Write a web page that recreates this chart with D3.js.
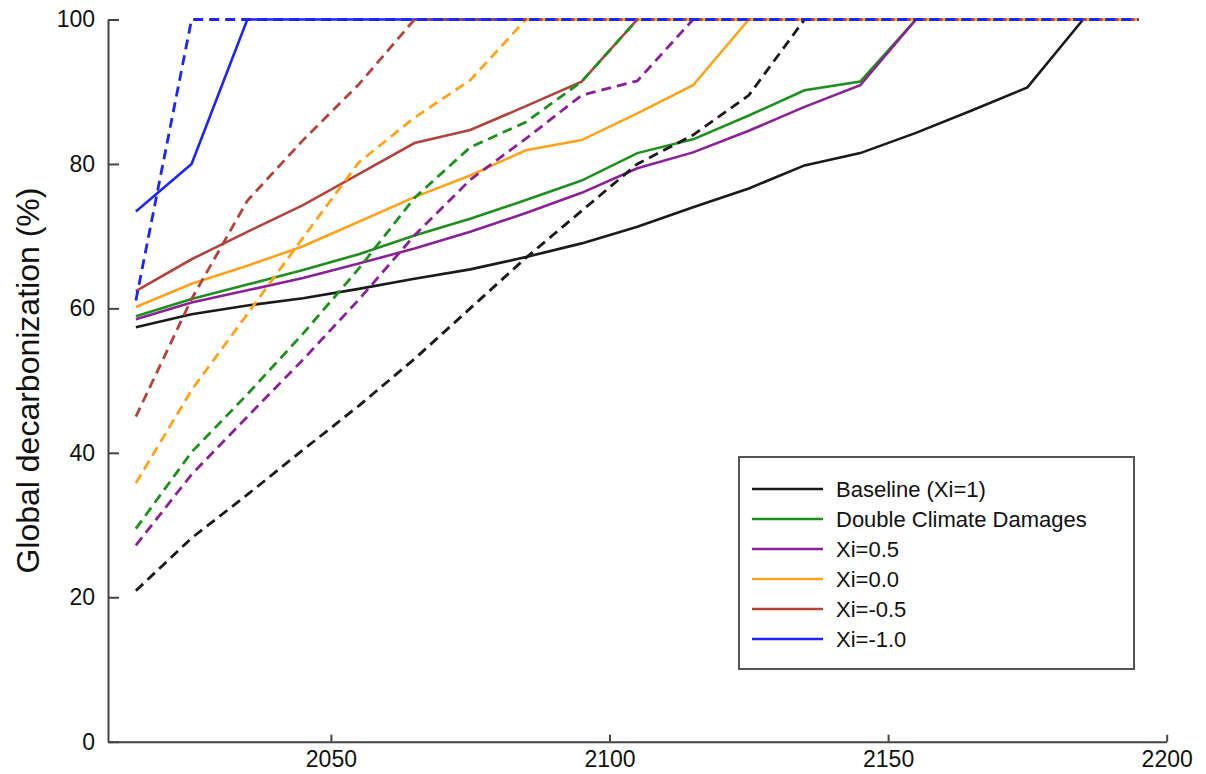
<!DOCTYPE html>
<html>
<head>
<meta charset="utf-8">
<script src="https://cdn.jsdelivr.net/npm/d3@7"></script>
<style>
  body { margin: 0; background: #fff; }
  svg { font-family: Arial, "Liberation Sans", sans-serif; }
</style>
</head>
<body>
<div id="chart"></div>
<script>
// Decades on the x axis
const years = [2015, 2025, 2035, 2045, 2055, 2065, 2075, 2085, 2095, 2105,
  2115, 2125, 2135, 2145, 2155, 2165, 2175, 2185, 2195];

// Solid lines (one per scenario)
const baseline = [57.4, 59.2, 60.4, 61.4, 62.7, 64.1, 65.4, 67.1, 69.0, 71.3, 74.0, 76.6, 79.8, 81.5, 84.3, 87.4, 90.6, 100, 100];
const doubleDamages = [58.9, 61.3, 63.3, 65.3, 67.5, 70.1, 72.4, 75.0, 77.7, 81.5, 83.4, 86.7, 90.2, 91.4, 100, 100, 100, 100, 100];
const xi05 = [58.5, 60.8, 62.5, 64.2, 66.2, 68.3, 70.6, 73.2, 76.0, 79.4, 81.6, 84.6, 87.9, 90.9, 100, 100, 100, 100, 100];
const xi00 = [60.2, 63.4, 65.9, 68.6, 72.0, 75.4, 78.4, 81.9, 83.3, 87.0, 90.9, 100, 100, 100, 100, 100, 100, 100, 100];
const xiM05 = [62.4, 66.8, 70.6, 74.3, 78.6, 82.9, 84.7, 88.0, 91.4, 100, 100, 100, 100, 100, 100, 100, 100, 100, 100];
const xiM10 = [73.4, 80.0, 100, 100, 100, 100, 100, 100, 100, 100, 100, 100, 100, 100, 100, 100, 100, 100, 100];

// Dashed lines (same scenarios)
const baselineDash = [20.9, 28.2, 34.2, 40.4, 46.5, 53.0, 60.0, 67.0, 73.5, 80.0, 84.0, 89.5, 100, 100, 100, 100, 100, 100, 100];
const doubleDamagesDash = [29.5, 40.1, 48.1, 56.5, 65.5, 75.3, 82.3, 85.8, 91.4, 100, 100, 100, 100, 100, 100, 100, 100, 100, 100];
const xi05Dash = [27.2, 37.0, 45.0, 52.9, 61.2, 70.1, 77.8, 83.5, 89.5, 91.5, 100, 100, 100, 100, 100, 100, 100, 100, 100];
const xi00Dash = [35.8, 48.7, 59.2, 69.8, 80.2, 86.4, 91.6, 100, 100, 100, 100, 100, 100, 100, 100, 100, 100, 100, 100];
const xiM05Dash = [45.0, 61.3, 74.9, 83.3, 91.0, 100, 100, 100, 100, 100, 100, 100, 100, 100, 100, 100, 100, 100, 100];
const xiM10Dash = [61.1, 100, 100, 100, 100, 100, 100, 100, 100, 100, 100, 100, 100, 100, 100, 100, 100, 100, 100];

const labels = ['Baseline (Xi=1)', 'Double Climate Damages', 'Xi=0.5', 'Xi=0.0', 'Xi=-0.5', 'Xi=-1.0'];
const colors = ['#1a1a1a', '#1f8f1f', '#8b2196', '#ffa31a', '#b3433d', '#1f24ff'];
const xTicks = [2050, 2100, 2150, 2200];
const yTicks = [0, 20, 40, 60, 80, 100];

const solids = [baseline, doubleDamages, xi05, xi00, xiM05, xiM10];
const dashes = [baselineDash, doubleDamagesDash, xi05Dash, xi00Dash, xiM05Dash, xiM10Dash];

const W = 1206, H = 774;
const margin = { top: 19.5, right: 39.3, bottom: 32.3, left: 108 };

const svg = d3.select('#chart').append('svg')
  .attr('width', W)
  .attr('height', H);

const x = d3.scaleLinear()
  .domain([2010, 2200])
  .range([margin.left, W - margin.right]);

const y = d3.scaleLinear()
  .domain([0, 100])
  .range([H - margin.bottom, margin.top]);

const line = d3.line()
  .x((d, i) => x(years[i]))
  .y(d => y(d));

// Axes
const xAxis = svg.append('g')
  .attr('transform', `translate(0,${H - margin.bottom})`)
  .call(d3.axisBottom(x).tickValues(xTicks).tickFormat(d3.format('d'))
    .tickSizeInner(-7).tickSizeOuter(0).tickPadding(9));

const yAxis = svg.append('g')
  .attr('transform', `translate(${margin.left},0)`)
  .call(d3.axisLeft(y).tickValues(yTicks)
    .tickSizeInner(-11).tickSizeOuter(0).tickPadding(13));

[xAxis, yAxis].forEach(a => {
  a.select('.domain').attr('stroke', '#444').attr('stroke-width', 2);
  a.selectAll('.tick line').attr('stroke', '#444').attr('stroke-width', 2);
  a.selectAll('.tick text').attr('fill', '#111').style('font-size', '23px');
});

// Y title
svg.append('text')
  .attr('transform', `translate(39,${(margin.top + H - margin.bottom) / 2}) rotate(-90)`)
  .attr('text-anchor', 'middle')
  .style('font-size', '32px')
  .attr('fill', '#111')
  .text('Global decarbonization (%)');

// Solid lines first, then the dashed ones on top
solids.forEach((s, i) => {
  svg.append('path')
    .datum(s)
    .attr('fill', 'none')
    .attr('stroke', colors[i])
    .attr('stroke-width', 2.6)
    .attr('d', line);
});

dashes.forEach((s, i) => {
  svg.append('path')
    .datum(s)
    .attr('fill', 'none')
    .attr('stroke', colors[i])
    .attr('stroke-width', 2.8)
    .attr('stroke-dasharray', '10,6')
    .attr('d', line);
});

// Legend
const legend = svg.append('g')
  .attr('transform', 'translate(739,457)');

legend.append('rect')
  .attr('width', 395)
  .attr('height', 212)
  .attr('fill', '#fff')
  .attr('stroke', '#555')
  .attr('stroke-width', 2);

labels.forEach((lab, i) => {
  const ly = 32 + i * 30;
  legend.append('line')
    .attr('x1', 13).attr('x2', 84)
    .attr('y1', ly).attr('y2', ly)
    .attr('stroke', colors[i])
    .attr('stroke-width', 2.5);
  legend.append('text')
    .attr('x', 97)
    .attr('y', ly)
    .attr('dy', '0.35em')
    .style('font-size', '22px')
    .attr('fill', '#111')
    .text(lab);
});
</script>
</body>
</html>
